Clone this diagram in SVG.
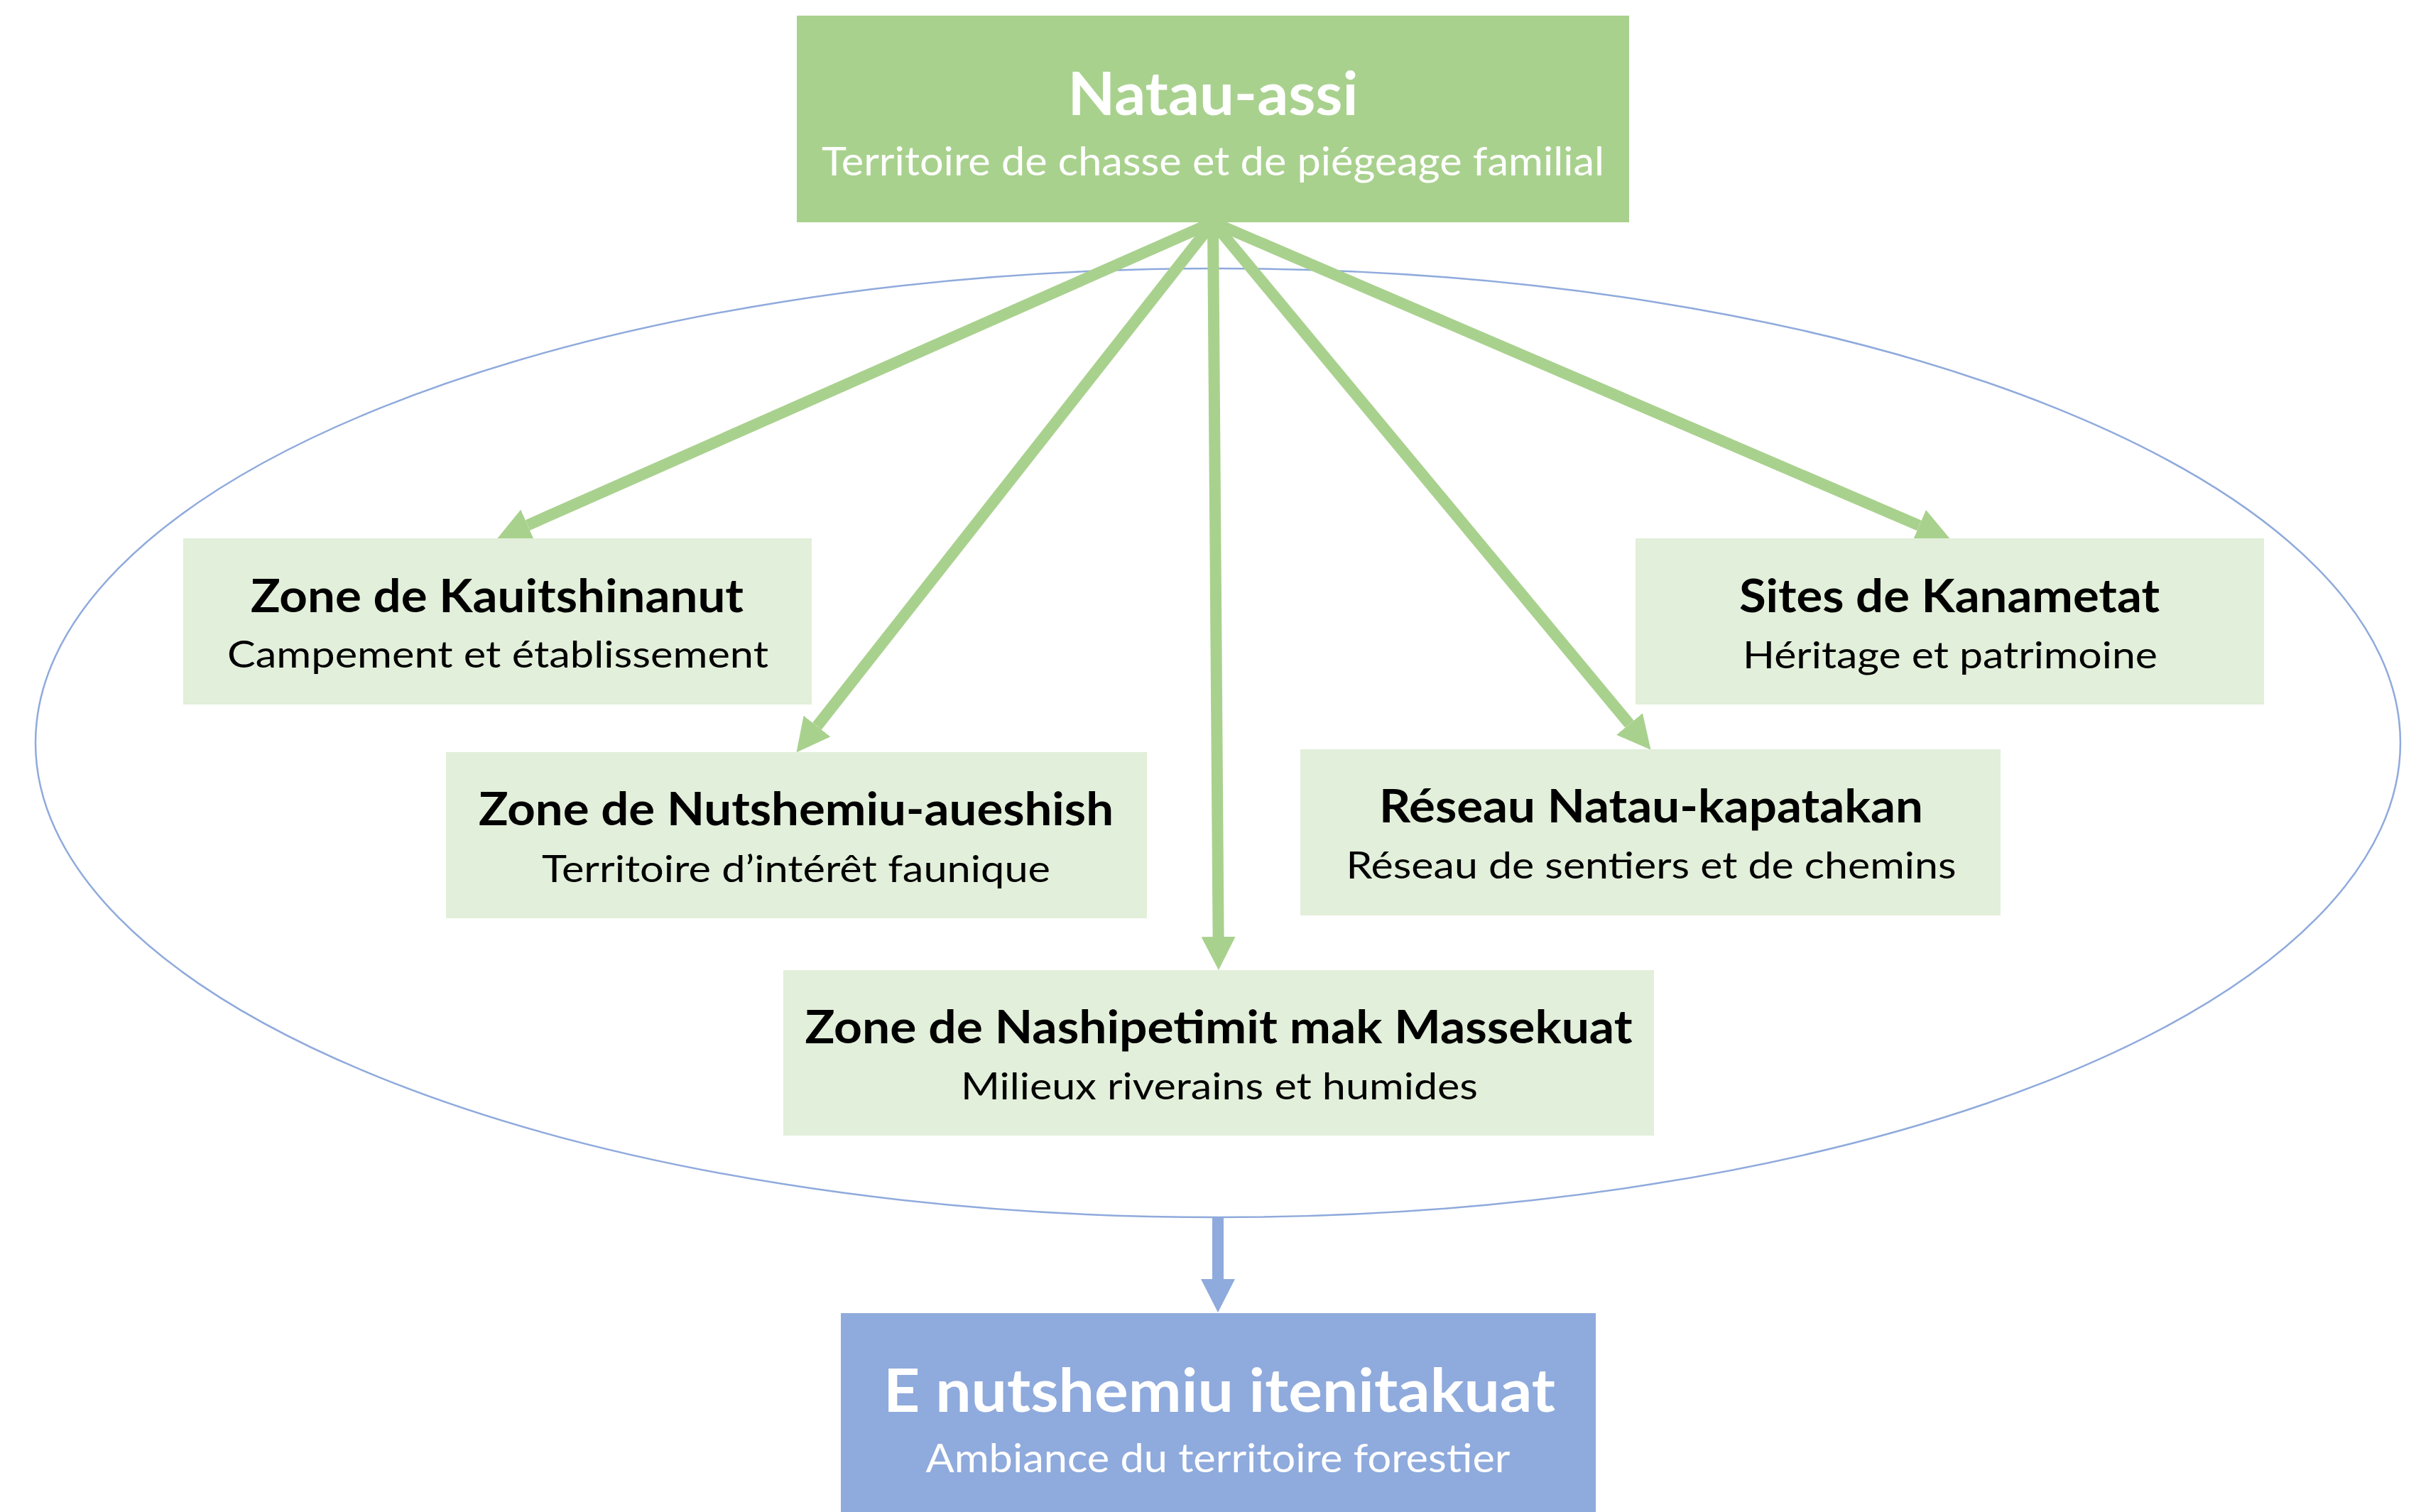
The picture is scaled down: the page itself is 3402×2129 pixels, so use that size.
<svg xmlns="http://www.w3.org/2000/svg" width="3402" height="2129" viewBox="0 0 3402 2129">
  <style>
    .t { font-family: Lato, "Open Sans", "Liberation Sans", sans-serif; text-anchor: middle; }
    .big { font-size: 85px; font-weight: bold; fill: #ffffff; }
    .bigsub { font-size: 56px; fill: #ffffff; }
    .title { font-size: 65px; font-weight: bold; fill: #000000; }
    .sub { font-size: 53px; fill: #000000; }
    .child { fill: #E2EFDA; }
    .g { stroke: #A9D18E; stroke-width: 16; fill: none; marker-end: url(#ag); }
    .b { stroke: #8FAADC; stroke-width: 16; fill: none; marker-end: url(#ab); }
  </style>
  <defs>
    <marker id="ag" markerUnits="userSpaceOnUse" orient="auto" markerWidth="47" markerHeight="48" refX="0" refY="24" viewBox="0 0 47 48">
      <path d="M0,0 L47,24 L0,48 z" fill="#A9D18E"/>
    </marker>
    <marker id="ab" markerUnits="userSpaceOnUse" orient="auto" markerWidth="47" markerHeight="48" refX="0" refY="24" viewBox="0 0 47 48">
      <path d="M0,0 L47,24 L0,48 z" fill="#8FAADC"/>
    </marker>
  </defs>
  <rect x="0" y="0" width="3402" height="2129" fill="#ffffff"/>
  <ellipse id="ensemble" cx="1715" cy="1046" rx="1665" ry="668" fill="none" stroke="#8FAADC" stroke-width="2.5"/>
  <g id="connectors">
    <line class="g" x1="1708" y1="313" x2="743" y2="739.5"/>
    <line class="g" x1="1708" y1="313" x2="1150.5" y2="1022.5"/>
    <line class="g" x1="1708" y1="313" x2="1715.6" y2="1319"/>
    <line class="g" x1="1708" y1="313" x2="2294.5" y2="1019.5"/>
    <line class="g" x1="1708" y1="313" x2="2702.5" y2="740"/>
    <line class="b" x1="1715" y1="1714" x2="1715" y2="1801"/>
  </g>
  <g id="natau-assi">
    <rect x="1122" y="22" width="1172" height="291" fill="#A9D18E"/>
    <text class="t big" x="1708" y="162" textLength="409" lengthAdjust="spacingAndGlyphs">Natau-assi</text>
    <text class="t bigsub" x="1708" y="247" textLength="1102" lengthAdjust="spacingAndGlyphs">Territoire de chasse et de piégeage familial</text>
  </g>
  <g id="kauitshinanut">
    <rect class="child" x="258" y="758" width="885" height="234"/>
    <text class="t title" x="700" y="862" textLength="694" lengthAdjust="spacingAndGlyphs">Zone de Kauitshinanut</text>
    <text class="t sub" x="701" y="940" textLength="762" lengthAdjust="spacingAndGlyphs">Campement et établissement</text>
  </g>
  <g id="kanametat">
    <rect class="child" x="2303" y="758" width="885" height="234"/>
    <text class="t title" x="2745" y="862" textLength="592" lengthAdjust="spacingAndGlyphs">Sites de Kanametat</text>
    <text class="t sub" x="2746" y="941" textLength="584" lengthAdjust="spacingAndGlyphs">Héritage et patrimoine</text>
  </g>
  <g id="nutshemiu-aueshish">
    <rect class="child" x="628" y="1059" width="987" height="234"/>
    <text class="t title" x="1121" y="1162" textLength="894" lengthAdjust="spacingAndGlyphs">Zone de Nutshemiu-aueshish</text>
    <text class="t sub" x="1121" y="1242" textLength="716" lengthAdjust="spacingAndGlyphs">Territoire d’intérêt faunique</text>
  </g>
  <g id="natau-kapatakan">
    <rect class="child" x="1831" y="1055" width="986" height="234"/>
    <text class="t title" x="2325" y="1158" textLength="766" lengthAdjust="spacingAndGlyphs">Réseau Natau-kapatakan</text>
    <text class="t sub" x="2325" y="1237" textLength="859" lengthAdjust="spacingAndGlyphs">Réseau de sentiers et de chemins</text>
  </g>
  <g id="nashipetimit">
    <rect class="child" x="1103" y="1366" width="1226" height="233"/>
    <text class="t title" x="1716" y="1469" textLength="1165" lengthAdjust="spacingAndGlyphs">Zone de Nashipetimit mak Massekuat</text>
    <text class="t sub" x="1717" y="1548" textLength="728" lengthAdjust="spacingAndGlyphs">Milieux riverains et humides</text>
  </g>
  <g id="itenitakuat">
    <rect x="1184" y="1849" width="1063" height="281" fill="#8FAADC"/>
    <text class="t big" x="1717" y="1988" textLength="946" lengthAdjust="spacingAndGlyphs">E nutshemiu itenitakuat</text>
    <text class="t bigsub" x="1715" y="2073" textLength="823" lengthAdjust="spacingAndGlyphs">Ambiance du territoire forestier</text>
  </g>
</svg>
